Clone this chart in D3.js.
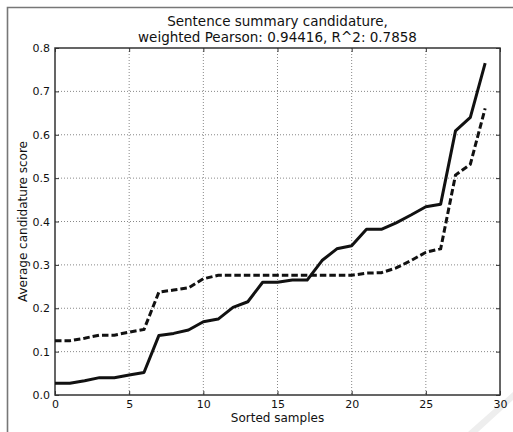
<!DOCTYPE html>
<html>
<head>
<meta charset="utf-8">
<script src="https://cdn.jsdelivr.net/npm/d3@7"></script>
<style>
  body { margin: 0; background: #fff; }
  svg { display: block; font-family: "DejaVu Sans", sans-serif; }
</style>
</head>
<body>
<div id="box"></div>
<script>
var w = 513,
    h = 432;

// sorted sample index
var samples = d3.range(0, 30);

// solid line
var candidature = [0.027, 0.027, 0.033, 0.040, 0.040, 0.046, 0.052, 0.137, 0.142, 0.150,
                   0.169, 0.175, 0.202, 0.215, 0.260, 0.260, 0.265, 0.265, 0.310, 0.337,
                   0.344, 0.382, 0.382, 0.397, 0.415, 0.434, 0.440, 0.609, 0.640, 0.765];

// dashed line
var predicted = [0.125, 0.125, 0.131, 0.138, 0.138, 0.145, 0.151, 0.237, 0.242, 0.247,
                 0.268, 0.276, 0.276, 0.276, 0.276, 0.276, 0.276, 0.276, 0.276, 0.276,
                 0.276, 0.281, 0.282, 0.293, 0.310, 0.329, 0.337, 0.507, 0.532, 0.661];

var xTicks = [0, 5, 10, 15, 20, 25, 30];
var yTicks = [0.0, 0.1, 0.2, 0.3, 0.4, 0.5, 0.6, 0.7, 0.8];

var titleLines = ["Sentence summary candidature,",
                  "weighted Pearson: 0.94416, R^2: 0.7858"];

var m = {left: 55, right: 500, top: 48, bottom: 395};

var svg = d3.select("#box")
            .append("svg")
            .attr("width", w)
            .attr("height", h);

// outer frame (top + left only)
svg.append("path")
   .attr("d", "M7.5," + h + "V7.5H" + w)
   .attr("fill", "none")
   .attr("stroke", "#777")
   .attr("stroke-width", 1.6);

// faint watermark stroke bottom-right
svg.append("path")
   .attr("d", "M468,432 L513,392 L513,400 L478,432 Z")
   .attr("fill", "#eeeeee");

var x = d3.scaleLinear().domain([0, 30]).range([m.left, m.right]);
var y = d3.scaleLinear().domain([0, 0.8]).range([m.bottom, m.top]);

// grid
svg.append("g")
   .selectAll("line")
   .data(xTicks.slice(1, -1))
   .enter()
   .append("line")
   .attr("x1", function(d) { return x(d); })
   .attr("x2", function(d) { return x(d); })
   .attr("y1", m.top)
   .attr("y2", m.bottom)
   .attr("stroke", "#555")
   .attr("stroke-width", 0.7)
   .attr("stroke-dasharray", "1,2");

svg.append("g")
   .selectAll("line")
   .data(yTicks.slice(1, -1))
   .enter()
   .append("line")
   .attr("x1", m.left)
   .attr("x2", m.right)
   .attr("y1", function(d) { return y(d); })
   .attr("y2", function(d) { return y(d); })
   .attr("stroke", "#555")
   .attr("stroke-width", 0.7)
   .attr("stroke-dasharray", "1,2");

// axes with inward ticks
var xAxis = svg.append("g")
   .attr("transform", "translate(0," + m.bottom + ")")
   .call(d3.axisBottom(x).tickValues(xTicks).tickSizeInner(-4).tickSizeOuter(0).tickPadding(5)
          .tickFormat(d3.format("d")));

var yAxis = svg.append("g")
   .attr("transform", "translate(" + m.left + ",0)")
   .call(d3.axisLeft(y).tickValues(yTicks).tickSizeInner(-4).tickSizeOuter(0).tickPadding(5)
          .tickFormat(d3.format(".1f")));

svg.append("g")
   .attr("transform", "translate(0," + m.top + ")")
   .call(d3.axisTop(x).tickValues(xTicks).tickSizeInner(-4).tickSizeOuter(0).tickFormat(""));

svg.append("g")
   .attr("transform", "translate(" + m.right + ",0)")
   .call(d3.axisRight(y).tickValues(yTicks).tickSizeInner(-4).tickSizeOuter(0).tickFormat(""));

svg.selectAll(".domain").remove();
svg.selectAll(".tick line").attr("stroke", "#333");
svg.selectAll(".tick text")
   .attr("font-family", "DejaVu Sans, sans-serif")
   .attr("font-size", "11px")
   .attr("fill", "#111");

// plot box
svg.append("rect")
   .attr("x", m.left)
   .attr("y", m.top)
   .attr("width", m.right - m.left)
   .attr("height", m.bottom - m.top)
   .attr("fill", "none")
   .attr("stroke", "#333")
   .attr("stroke-width", 1.5);

var line = d3.line()
   .x(function(d, i) { return x(samples[i]); })
   .y(function(d) { return y(d); });

svg.append("path")
   .datum(predicted)
   .attr("d", line)
   .attr("fill", "none")
   .attr("stroke", "#111")
   .attr("stroke-width", 3)
   .attr("stroke-dasharray", "6.5,3");

svg.append("path")
   .datum(candidature)
   .attr("d", line)
   .attr("fill", "none")
   .attr("stroke", "#111")
   .attr("stroke-width", 3)
   .attr("stroke-linejoin", "round");

// title
svg.selectAll("text.title")
   .data(titleLines)
   .enter()
   .append("text")
   .attr("class", "title")
   .text(function(d) { return d; })
   .attr("x", (m.left + m.right) / 2)
   .attr("y", function(d, i) { return 26 + i * 15.5; })
   .attr("text-anchor", "middle")
   .attr("font-size", "13.5px")
   .attr("fill", "#111");

svg.append("text")
   .text("Sorted samples")
   .attr("x", (m.left + m.right) / 2)
   .attr("y", 422)
   .attr("text-anchor", "middle")
   .attr("font-size", "12px")
   .attr("fill", "#111");

svg.append("text")
   .text("Average candidature score")
   .attr("transform", "translate(27," + ((m.top + m.bottom) / 2) + ") rotate(-90)")
   .attr("text-anchor", "middle")
   .attr("font-size", "12px")
   .attr("fill", "#111");
</script>
</body>
</html>
